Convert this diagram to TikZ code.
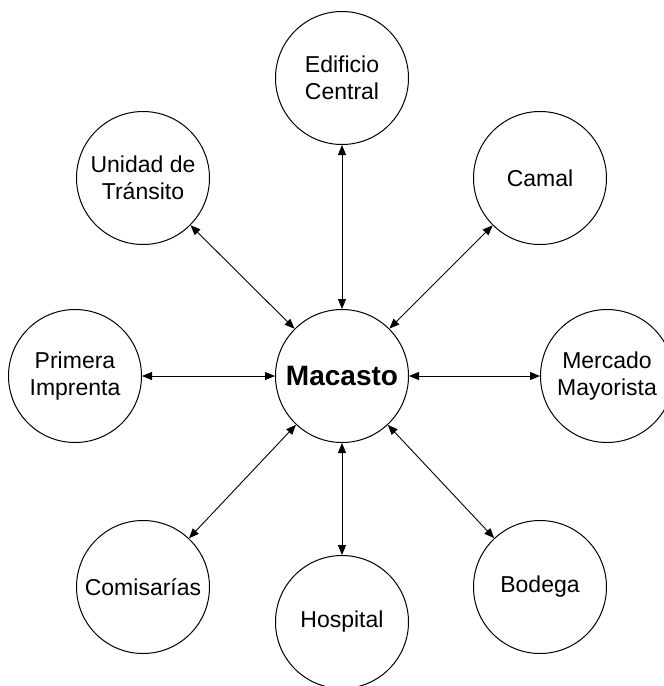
\documentclass[tikz,border=0pt]{standalone}
\usepackage{fontspec}
\setmainfont{Liberation Sans}
\usetikzlibrary{arrows.meta}

\begin{document}
\begin{tikzpicture}[x=1pt,y=-1pt,
  place/.style={circle, draw, line width=1pt, minimum size=133pt, inner sep=0pt,
    align=center, font=\fontsize{23}{27}\selectfont},
  hub/.style={place, font=\fontsize{28}{31}\selectfont\bfseries},
  link/.style={{Triangle[length=10pt,width=8pt]}-{Triangle[length=10pt,width=8pt]},
    line width=0.9pt}]
  \useasboundingbox (0,0) rectangle (664,686);

  % central node
  \node[hub] (macasto) at (342,376) {Macasto};

  % surrounding places
  \node[place] (edificio) at (342,78)  {Edificio\\Central};
  \node[place] (unidad)   at (143,178) {Unidad de\\Tránsito};
  \node[place] (camal)    at (540,178) {Camal};
  \node[place] (primera)  at (75,376)  {Primera\\Imprenta};
  \node[place] (mercado)  at (607,376) {Mercado\\Mayorista};
  \node[place] (comis)    at (143,587) {Comisarías};
  \node[place] (hospital) at (342,622) {Hospital};
  \node[place] (bodega)   at (540,587) {Bodega};

  % two-way links to the centre
  \foreach \n in {edificio,unidad,camal,primera,mercado,comis,hospital,bodega}
    \draw[link] (macasto) -- (\n);
\end{tikzpicture}
\end{document}
